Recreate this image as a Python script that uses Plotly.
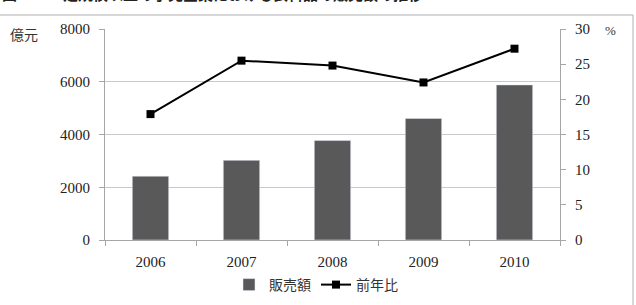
import plotly.graph_objects as go

years = ["2006", "2007", "2008", "2009", "2010"]
sales = [2420, 3020, 3770, 4610, 5880]
growth = [17.9, 25.5, 24.8, 22.4, 27.2]
left_ticks = [0, 2000, 4000, 6000, 8000]
right_ticks = [0, 5, 10, 15, 20, 25, 30]

L, R, T, B = 105, 560, 29, 240
W, H = 636, 305
pw, ph = R - L, B - T

def px(x):
    return (x - L) / pw

def py(y):
    return (B - y) / ph

serif = "Liberation Serif"
sans = "Noto Sans CJK JP"

fig = go.Figure()
fig.add_trace(go.Bar(x=years, y=sales, name="販売額", marker_color="#595959",
                     width=0.4, yaxis="y"))
fig.add_trace(go.Scatter(x=years, y=growth, name="前年比", mode="lines+markers",
                         line=dict(color="black", width=2),
                         marker=dict(symbol="square", size=8, color="black"),
                         yaxis="y2"))

fig.update_layout(
    width=W, height=H,
    margin=dict(l=L, r=W - R, t=T, b=H - B, pad=0, autoexpand=False),
    paper_bgcolor="white", plot_bgcolor="white",
    showlegend=True,
    legend=dict(orientation="h", x=px(316), xanchor="center", y=py(269), yanchor="top",
                font=dict(family=sans, size=14, color="#333"), itemwidth=30,
                tracegroupgap=0, bgcolor="rgba(0,0,0,0)"),
    xaxis=dict(type="category", tickson="boundaries", ticks="outside", ticklen=5,
               tickcolor="#a6a6a6", showline=True, linecolor="#a6a6a6",
               showgrid=False, tickfont=dict(family=serif, size=15, color="#222"),
               ticklabelstandoff=8, range=[-0.5, 4.5]),
    yaxis=dict(range=[0, 8000], tickvals=left_ticks, ticks="outside", ticklen=5,
               tickcolor="#a6a6a6", showline=True, linecolor="#a6a6a6",
               gridcolor="#c8c8c8", gridwidth=1, zeroline=False, ticklabelstandoff=6,
               tickfont=dict(family=serif, size=15, color="#222")),
    yaxis2=dict(range=[0, 30], tickvals=right_ticks, overlaying="y", side="right",
                ticks="outside", ticklen=5, tickcolor="#a6a6a6", showline=True,
                linecolor="#a6a6a6", showgrid=False, zeroline=False, ticklabelstandoff=6,
                tickfont=dict(family=serif, size=15, color="#222")),
)

fig.add_shape(type="rect", xref="paper", yref="paper",
              x0=px(-3), x1=px(633), y0=py(312), y1=py(15),
              line=dict(color="#b0b0b0", width=1), fillcolor="rgba(0,0,0,0)", layer="below")

fig.add_annotation(text="億元", xref="paper", yref="paper", x=px(8), y=py(34),
                   xanchor="left", yanchor="middle", showarrow=False,
                   font=dict(family=sans, size=14, color="#333"))
fig.add_annotation(text="%", xref="paper", yref="paper", x=px(603), y=py(30),
                   xanchor="left", yanchor="middle", showarrow=False,
                   font=dict(family=serif, size=13, color="#333"))
fig.add_annotation(text="<b>図16</b>", xref="paper", yref="paper", x=px(0), y=py(6),
                   xanchor="left", yanchor="bottom", showarrow=False,
                   font=dict(family=sans, size=15, color="#222"))
fig.add_annotation(text="<b>一定規模以上の小売企業における衣料品の販売額の推移</b>",
                   xref="paper", yref="paper", x=px(46), y=py(6),
                   xanchor="left", yanchor="bottom", showarrow=False,
                   font=dict(family=sans, size=15, color="#222"))

fig.write_html("out.html")
